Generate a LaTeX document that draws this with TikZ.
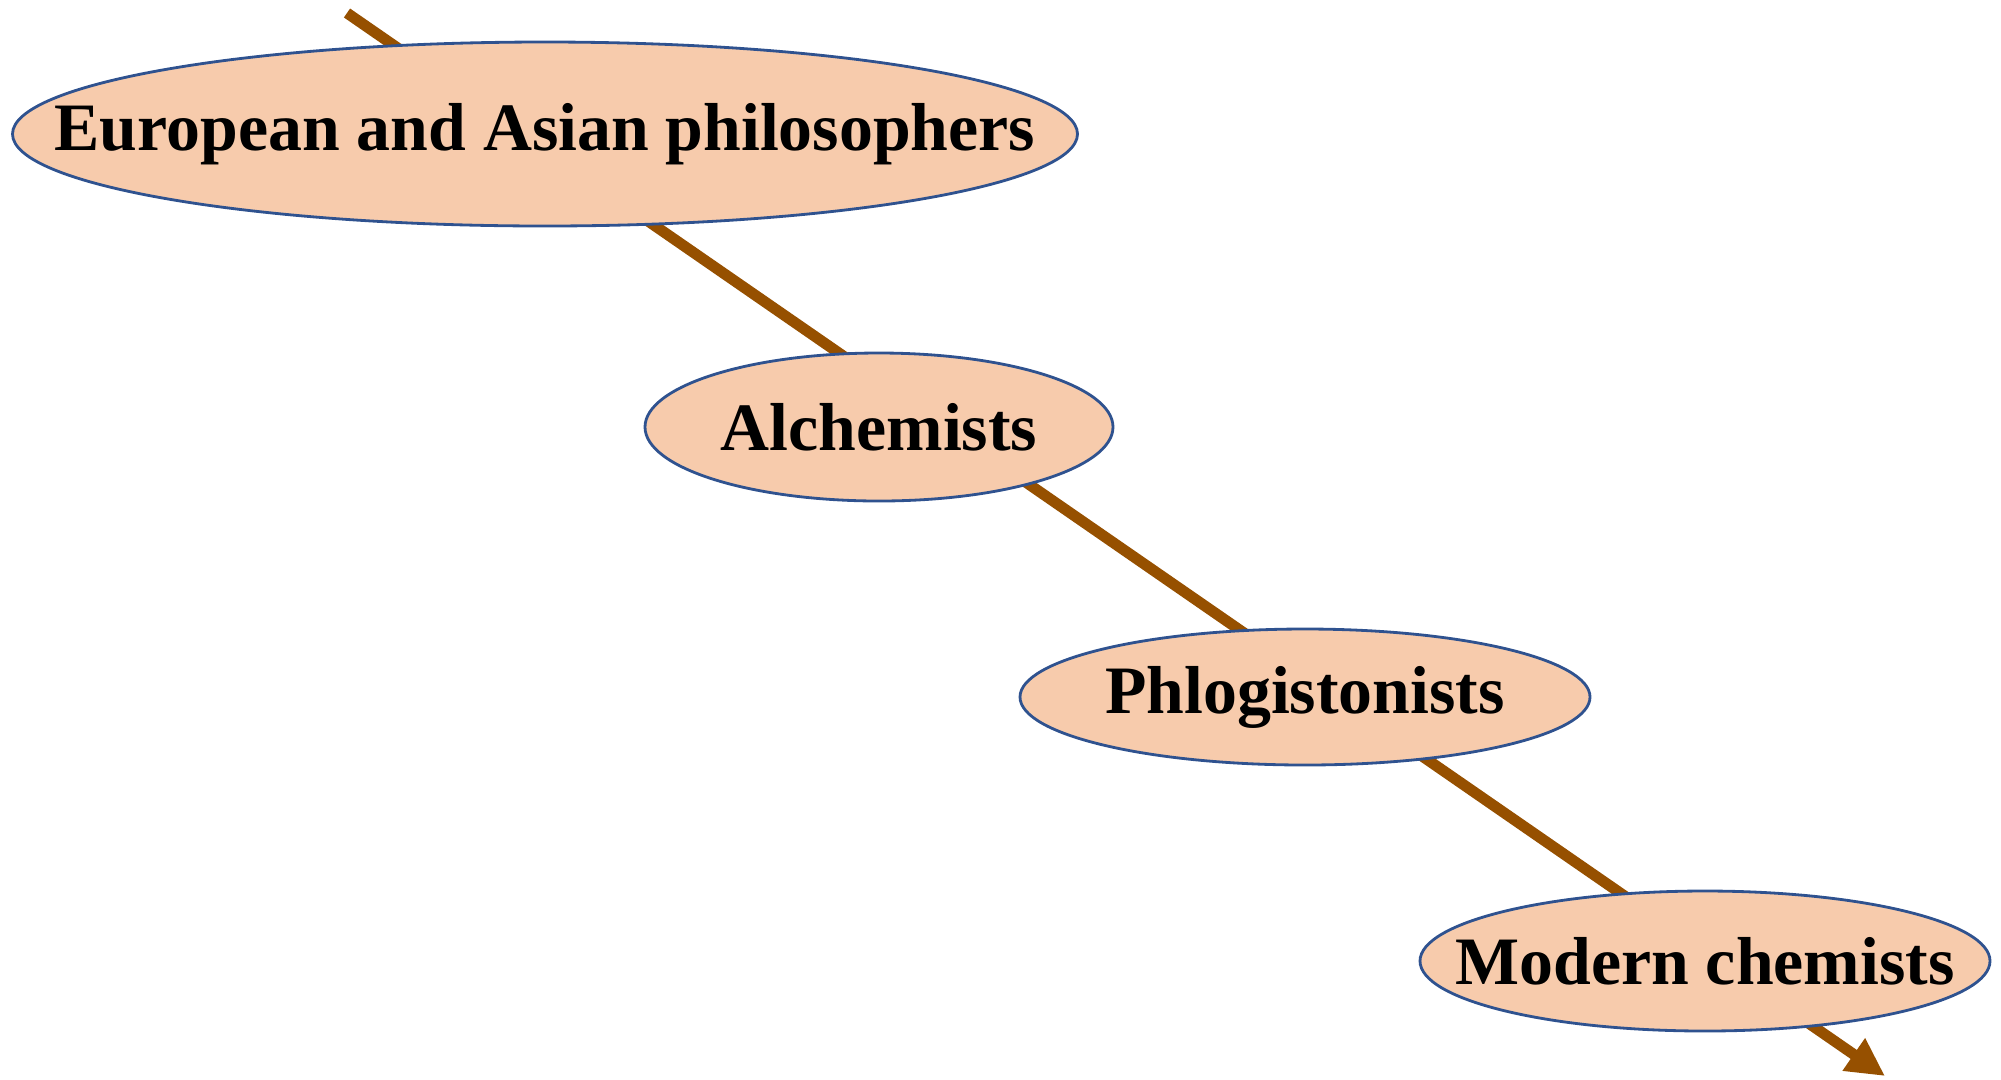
\documentclass[tikz,border=0pt]{standalone}
\usepackage{fontspec}
\setmainfont{Liberation Serif}
\usetikzlibrary{arrows.meta,shapes.geometric}
\definecolor{peach}{RGB}{247,203,172}
\definecolor{rimblue}{RGB}{47,82,143}
\definecolor{rust}{RGB}{150,80,0}

\begin{document}
\begin{tikzpicture}[
  stage/.style={ellipse,draw=rimblue,fill=peach,line width=0.8pt,inner sep=0pt,
    font=\fontsize{19.3}{23}\selectfont\bfseries,
    execute at begin node={\hbox to 0pt\bgroup\hss},
    execute at end node={\hss\egroup}},
  timeline/.style={rust,line width=3.1pt,-{Triangle[length=0.38cm,width=0.37cm]}}
]
\useasboundingbox (0,0) rectangle (20.01,-10.79);

\coordinate (start) at (3.47,-0.13);
\coordinate (end) at (18.85,-10.76);
\draw[timeline] (start) -- (end);

\node[stage,minimum width=10.65cm,minimum height=1.84cm] (philo) at (5.45,-1.34) {European and Asian philosophers};
\node[stage,minimum width=4.68cm,minimum height=1.48cm] (alch) at (8.79,-4.27) {Alchemists};
\node[stage,minimum width=5.70cm,minimum height=1.36cm] (phlog) at (13.05,-6.97) {Phlogistonists};
\node[stage,minimum width=5.70cm,minimum height=1.40cm] (modern) at (17.05,-9.61) {Modern chemists};
\end{tikzpicture}
\end{document}
